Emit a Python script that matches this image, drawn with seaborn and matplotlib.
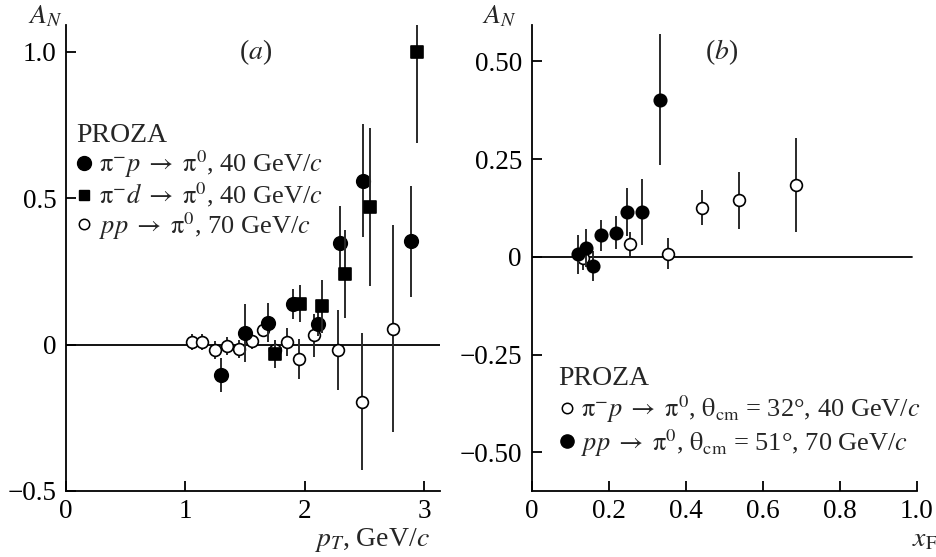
import matplotlib
matplotlib.use("Agg")
import matplotlib.pyplot as plt
from matplotlib.lines import Line2D
import seaborn as sns
import numpy as np

# ---------------- data: panel (a) ----------------
a_pim_p_x = [1.30, 1.50, 1.69, 1.90, 2.11, 2.30, 2.49, 2.89]
a_pim_p_y = [-0.105, 0.040, 0.075, 0.138, 0.070, 0.348, 0.560, 0.352]
a_pim_p_e = [0.058, 0.100, 0.067, 0.050, 0.040, 0.126, 0.194, 0.190]

a_pim_d_x = [1.75, 1.96, 2.15, 2.34, 2.55, 2.94]
a_pim_d_y = [-0.033, 0.140, 0.130, 0.241, 0.471, 1.000]
a_pim_d_e = [0.048, 0.063, 0.091, 0.150, 0.270, 0.311]

a_pp_x = [1.06, 1.14, 1.25, 1.35, 1.45, 1.56, 1.65, 1.75, 1.85, 1.95, 2.08, 2.28, 2.48, 2.74]
a_pp_y = [0.008, 0.008, -0.019, -0.005, -0.015, 0.013, 0.050, -0.018, 0.009, -0.050, 0.031, -0.019, -0.195, 0.054]
a_pp_e = [0.028, 0.028, 0.032, 0.030, 0.030, 0.028, 0.025, 0.030, 0.048, 0.068, 0.073, 0.137, 0.235, 0.354]

# ---------------- data: panel (b) ----------------
b_pim_p_x = [0.132, 0.255, 0.353, 0.442, 0.538, 0.687]
b_pim_p_y = [-0.004, 0.033, 0.008, 0.126, 0.145, 0.183]
b_pim_p_e = [0.030, 0.030, 0.040, 0.045, 0.073, 0.120]

b_pp_x = [0.119, 0.140, 0.159, 0.180, 0.218, 0.248, 0.286, 0.334]
b_pp_y = [0.007, 0.023, -0.024, 0.055, 0.062, 0.114, 0.115, 0.402]
b_pp_e = [0.050, 0.049, 0.038, 0.040, 0.042, 0.062, 0.085, 0.167]

a_yticks = [-0.5, 0.0, 0.5, 1.0]
a_yticklabels = ["\u22120.5", "0", "0.5", "1.0"]
a_xticks = [0, 1, 2, 3]
a_xticklabels = ["0", "1", "2", "3"]
b_yticks = [-0.50, -0.25, 0.0, 0.25, 0.50]
b_yticklabels = ["\u22120.50", "\u22120.25", "0", "0.25", "0.50"]
b_xticks = [0, 0.2, 0.4, 0.6, 0.8, 1.0]
b_xticklabels = ["0", "0.2", "0.4", "0.6", "0.8", "1.0"]

lbl_a = [r"$\mathrm{\pi}^{-}p \;\rightarrow\; \mathrm{\pi}^{0}$, 40 GeV/$c$",
         r"$\mathrm{\pi}^{-}d \;\rightarrow\; \mathrm{\pi}^{0}$, 40 GeV/$c$",
         r"$pp \;\rightarrow\; \mathrm{\pi}^{0}$, 70 GeV/$c$"]
lbl_b = [r"$\mathrm{\pi}^{-}p \;\rightarrow\; \mathrm{\pi}^{0}$, $\mathrm{\theta}_{\mathrm{cm}}$ = 32°, 40 GeV/$c$",
         r"$pp \;\rightarrow\; \mathrm{\pi}^{0}$, $\mathrm{\theta}_{\mathrm{cm}}$ = 51°, 70 GeV/$c$"]

# ---------------- style ----------------
sns.set_theme(style="white")
plt.rcParams["font.family"] = ["Liberation Serif", "DejaVu Serif"]
plt.rcParams["mathtext.fontset"] = "stix"
plt.rcParams["axes.edgecolor"] = "black"
plt.rcParams["axes.linewidth"] = 1.3

FS_TICK = 19.5
FS_LEG = 19
FS_TXT = 20
W, H = 936, 557
fig = plt.figure(figsize=(W / 100, H / 100), dpi=100)

def px_box(l, r, t, b):
    return [l / W, 1 - b / H, (r - l) / W, (b - t) / H]

axA = fig.add_axes(px_box(66, 440, 25, 491))
axB = fig.add_axes(px_box(531.7, 916.7, 25, 491))

ecol = "#2a2a2a"

def series(ax, x, y, e, marker, face, s, z):
    ax.errorbar(x, y, yerr=e, fmt="none", ecolor=ecol, elinewidth=1.4, capsize=0, zorder=z)
    sns.scatterplot(x=x, y=y, marker=marker, s=s, color=face, edgecolor="black",
                    linewidth=1.2, ax=ax, zorder=z + 0.5, legend=False)

# Panel (a)
axA.axhline(0, color="black", lw=1.3, zorder=1)
series(axA, a_pp_x, a_pp_y, a_pp_e, "o", "white", 72, 2)
series(axA, a_pim_p_x, a_pim_p_y, a_pim_p_e, "o", "black", 95, 3)
series(axA, a_pim_d_x, a_pim_d_y, a_pim_d_e, "s", "black", 80, 4)
axA.set_xlim(0, 3.135)
axA.set_ylim(-0.5, 1.091)

# Panel (b)
axB.axhline(0, color="black", lw=1.3, xmax=0.987, zorder=1)
series(axB, b_pim_p_x, b_pim_p_y, b_pim_p_e, "o", "white", 72, 2)
series(axB, b_pp_x, b_pp_y, b_pp_e, "o", "black", 80, 3)
axB.set_xlim(0, 1.0)
axB.set_ylim(-0.599, 0.593)

for ax, xt, xtl, yt, ytl in [(axA, a_xticks, a_xticklabels, a_yticks, a_yticklabels),
                             (axB, b_xticks, b_xticklabels, b_yticks, b_yticklabels)]:
    ax.set_xticks(xt)
    ax.set_xticklabels(xtl)
    ax.set_yticks(yt)
    ax.set_yticklabels(ytl)
    ax.tick_params(direction="in", length=7, width=1.3, labelsize=FS_TICK, pad=6,
                   color="black", labelcolor="black")
    ax.tick_params(axis="y", pad=7)
    ax.tick_params(left=True, bottom=True)
    for sp in ["top", "right"]:
        ax.spines[sp].set_visible(False)
    ax.set_xlabel("")
    ax.set_ylabel("")
    ax.set_facecolor("white")

# Legends
hA = [Line2D([], [], ls="none", marker="o", ms=10, mfc="black", mec="black"),
      Line2D([], [], ls="none", marker="s", ms=7.5, mfc="black", mec="black"),
      Line2D([], [], ls="none", marker="o", ms=7.5, mfc="white", mec="black", mew=1.1)]
axA.legend(hA, lbl_a, title="PROZA", loc="upper left", bbox_to_anchor=(0.028, 0.79),
           frameon=False, fontsize=FS_LEG, title_fontsize=FS_LEG + 1, handlelength=0.6,
           handletextpad=0.25, labelspacing=0.02, borderpad=0, borderaxespad=0,
           alignment="left")

hB = [Line2D([], [], ls="none", marker="o", ms=7.5, mfc="white", mec="black", mew=1.1),
      Line2D([], [], ls="none", marker="o", ms=9.5, mfc="black", mec="black")]
axB.legend(hB, lbl_b, title="PROZA", loc="upper left", bbox_to_anchor=(0.07, 0.268),
           frameon=False, fontsize=FS_LEG, title_fontsize=FS_LEG + 1, handlelength=0.6,
           handletextpad=0.25, labelspacing=0.08, borderpad=0, borderaxespad=0,
           alignment="left")

# Texts
fig.text(28 / W, 1 - 23 / H, r"$A_N$", fontsize=FS_TXT, ha="left", va="baseline")
fig.text(482.5 / W, 1 - 23 / H, r"$A_N$", fontsize=FS_TXT, ha="left", va="baseline")
fig.text(256 / W, 1 - 52 / H, r"($a$)", fontsize=FS_TXT, ha="center", va="center")
fig.text(721.7 / W, 1 - 52 / H, r"($b$)", fontsize=FS_TXT, ha="center", va="center")
fig.text(430 / W, 1 - 546 / H, r"$p_T$, GeV/$c$", fontsize=FS_TXT, ha="right", va="baseline")
fig.text(912 / W, 1 - 546 / H, r"$x_\mathrm{F}$", fontsize=FS_TXT, ha="left", va="baseline")

fig.savefig("out.png", dpi=100, facecolor="white")
